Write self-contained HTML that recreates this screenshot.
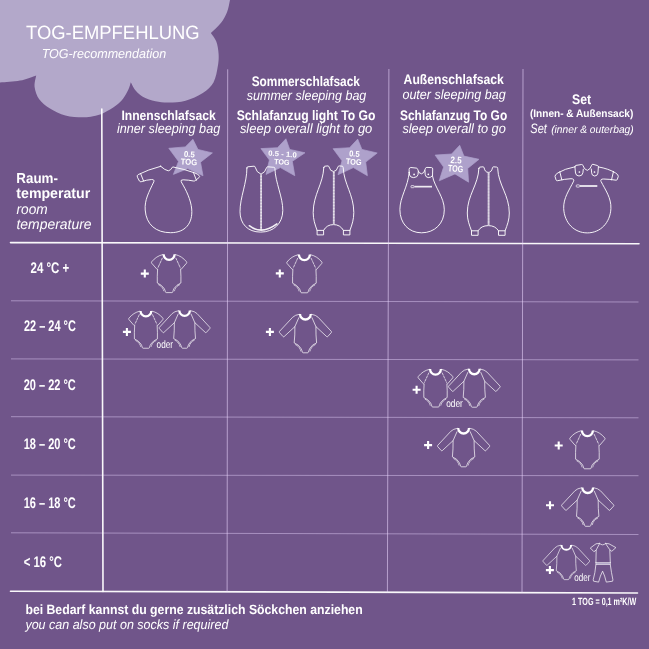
<!DOCTYPE html>
<html lang="de">
<head>
<meta charset="utf-8">
<title>TOG-Empfehlung</title>
<style>
html,body{margin:0;padding:0;background:#70558a;}
body{width:649px;height:649px;overflow:hidden;font-family:"Liberation Sans",sans-serif;}
svg{display:block;will-change:transform;}
</style>
</head>
<body>
<svg width="649" height="649" viewBox="0 0 649 649" font-family="'Liberation Sans', sans-serif" text-rendering="geometricPrecision">
<rect x="0" y="0" width="649" height="649" fill="#70558a"/>
<path d="M-8 -8 L231.5 -8 C231.25 -6.67 230.75 -3.38 230.00 0.00 C229.25 3.38 228.52 8.45 227.00 12.30 C225.48 16.15 223.58 19.63 220.90 23.10 C218.22 26.57 212.57 31.43 210.90 33.10 C211.80 34.52 215.02 38.12 216.30 41.60 C217.58 45.08 218.35 49.88 218.60 54.00 C218.85 58.12 218.65 61.57 217.80 66.30 C216.95 71.03 216.00 77.95 213.50 82.40 C211.00 86.85 207.47 89.95 202.80 93.00 C198.13 96.05 191.13 99.10 185.50 100.70 C179.87 102.30 174.00 102.50 169.00 102.60 C164.00 102.70 159.80 102.23 155.50 101.30 C151.20 100.37 146.48 98.75 143.20 97.00 C139.92 95.25 137.87 93.27 135.80 90.80 C133.73 88.33 131.63 83.63 130.80 82.20 C130.40 83.43 129.63 86.93 128.40 89.60 C127.17 92.27 125.47 95.53 123.40 98.20 C121.33 100.87 119.28 103.13 116.00 105.60 C112.72 108.07 107.53 111.22 103.70 113.00 C99.87 114.78 96.55 115.58 93.00 116.30 C89.45 117.02 87.00 117.43 82.40 117.30 C77.80 117.17 70.80 116.97 65.40 115.50 C60.00 114.03 54.37 111.20 50.00 108.50 C45.63 105.80 41.77 102.88 39.20 99.30 C36.63 95.72 35.10 90.98 34.60 87.00 C34.10 83.02 35.93 77.33 36.20 75.40 C33.50 76.27 26.03 79.40 20.00 80.60 C13.97 81.80 4.67 82.23 0.00 82.60 C-4.67 82.97 -6.67 82.77 -8.00 82.80 Z" fill="#b3a8ca"/>
<line x1="10.5" y1="242.6" x2="639.0" y2="243.8" stroke="#fff" stroke-opacity="0.96" stroke-width="1.6" stroke-linecap="round"/>
<line x1="11" y1="300.8" x2="638.5" y2="302.0" stroke="#ead6ff" stroke-opacity="0.46" stroke-width="1"/>
<line x1="11" y1="358.9" x2="638.5" y2="359.9" stroke="#ead6ff" stroke-opacity="0.46" stroke-width="1"/>
<line x1="11" y1="416.7" x2="638.5" y2="417.8" stroke="#ead6ff" stroke-opacity="0.46" stroke-width="1"/>
<line x1="11" y1="475.1" x2="638.5" y2="475.7" stroke="#ead6ff" stroke-opacity="0.46" stroke-width="1"/>
<line x1="11" y1="532.8" x2="638.5" y2="534.5" stroke="#ead6ff" stroke-opacity="0.46" stroke-width="1"/>
<line x1="10.5" y1="591.2" x2="637.5" y2="593.0" stroke="#fff" stroke-opacity="0.96" stroke-width="1.6" stroke-linecap="round"/>
<line x1="101.8" y1="109.0" x2="103.0" y2="591.4" stroke="#fff" stroke-opacity="0.96" stroke-width="1.6" stroke-linecap="round"/>
<line x1="227.7" y1="69.3" x2="227.1" y2="591.9" stroke="#ecd8ff" stroke-opacity="0.58" stroke-width="1"/>
<line x1="388.9" y1="69.0" x2="387.4" y2="592.4" stroke="#ecd8ff" stroke-opacity="0.58" stroke-width="1"/>
<line x1="523.0" y1="69.0" x2="522.0" y2="592.8" stroke="#ecd8ff" stroke-opacity="0.58" stroke-width="1"/>
<text x="26.0" y="39.3" font-size="19.20" font-weight="normal" font-style="normal" fill="#ffffff" textLength="173.6" lengthAdjust="spacingAndGlyphs">TOG-EMPFEHLUNG</text>
<text x="41.7" y="58.4" font-size="13.00" font-weight="normal" font-style="italic" fill="#ffffff" textLength="124.5" lengthAdjust="spacingAndGlyphs">TOG-recommendation</text>
<text x="121.4" y="120.4" font-size="13.60" font-weight="bold" font-style="normal" fill="#ffffff" textLength="94.4" lengthAdjust="spacingAndGlyphs">Innenschlafsack</text>
<text x="117.0" y="133.0" font-size="13.60" font-weight="normal" font-style="italic" fill="#ffffff" textLength="103.2" lengthAdjust="spacingAndGlyphs">inner sleeping bag</text>
<text x="251.7" y="86.0" font-size="13.80" font-weight="bold" font-style="normal" fill="#ffffff" textLength="108.2" lengthAdjust="spacingAndGlyphs">Sommerschlafsack</text>
<text x="246.8" y="99.5" font-size="13.60" font-weight="normal" font-style="italic" fill="#ffffff" textLength="119.5" lengthAdjust="spacingAndGlyphs">summer sleeping bag</text>
<text x="236.7" y="120.0" font-size="13.80" font-weight="bold" font-style="normal" fill="#ffffff" textLength="138.8" lengthAdjust="spacingAndGlyphs">Schlafanzug light To Go</text>
<text x="239.9" y="132.8" font-size="13.60" font-weight="normal" font-style="italic" fill="#ffffff" textLength="132.4" lengthAdjust="spacingAndGlyphs">sleep overall light to go</text>
<text x="403.6" y="83.6" font-size="13.80" font-weight="bold" font-style="normal" fill="#ffffff" textLength="100.2" lengthAdjust="spacingAndGlyphs">Außenschlafsack</text>
<text x="402.4" y="99.3" font-size="13.60" font-weight="normal" font-style="italic" fill="#ffffff" textLength="103.4" lengthAdjust="spacingAndGlyphs">outer sleeping bag</text>
<text x="400.0" y="119.7" font-size="13.80" font-weight="bold" font-style="normal" fill="#ffffff" textLength="107.2" lengthAdjust="spacingAndGlyphs">Schlafanzug To Go</text>
<text x="402.4" y="133.0" font-size="13.60" font-weight="normal" font-style="italic" fill="#ffffff" textLength="103.4" lengthAdjust="spacingAndGlyphs">sleep overall to go</text>
<text x="572.1" y="103.5" font-size="13.80" font-weight="bold" font-style="normal" fill="#ffffff" textLength="19.1" lengthAdjust="spacingAndGlyphs">Set</text>
<text x="529.9" y="117.4" font-size="10.80" font-weight="bold" font-style="normal" fill="#ffffff" textLength="103.4" lengthAdjust="spacingAndGlyphs">(Innen- &amp; Außensack)</text>
<text x="530.3" y="132.7" font-size="13.60" font-weight="normal" font-style="italic" fill="#ffffff" textLength="16.5" lengthAdjust="spacingAndGlyphs">Set</text>
<text x="551.2" y="132.7" font-size="10.80" font-weight="normal" font-style="italic" fill="#ffffff" textLength="82.5" lengthAdjust="spacingAndGlyphs">(inner &amp; outerbag)</text>
<text x="16.3" y="183.1" font-size="14.40" font-weight="bold" font-style="normal" fill="#ffffff" textLength="41.6" lengthAdjust="spacingAndGlyphs">Raum-</text>
<text x="16.3" y="198.3" font-size="14.40" font-weight="bold" font-style="normal" fill="#ffffff" textLength="73.9" lengthAdjust="spacingAndGlyphs">temperatur</text>
<text x="16.5" y="213.6" font-size="14.40" font-weight="normal" font-style="italic" fill="#ffffff" textLength="31.2" lengthAdjust="spacingAndGlyphs">room</text>
<text x="16.5" y="228.8" font-size="14.40" font-weight="normal" font-style="italic" fill="#ffffff" textLength="75.0" lengthAdjust="spacingAndGlyphs">temperature</text>
<text x="30.5" y="272.5" font-size="15.40" font-weight="bold" font-style="normal" fill="#ffffff" textLength="38.8" lengthAdjust="spacingAndGlyphs">24 °C +</text>
<text x="24.0" y="331.4" font-size="15.40" font-weight="bold" font-style="normal" fill="#ffffff" textLength="51.8" lengthAdjust="spacingAndGlyphs">22 – 24 °C</text>
<text x="23.7" y="390.3" font-size="15.40" font-weight="bold" font-style="normal" fill="#ffffff" textLength="52.1" lengthAdjust="spacingAndGlyphs">20 – 22 °C</text>
<text x="23.7" y="449.2" font-size="15.40" font-weight="bold" font-style="normal" fill="#ffffff" textLength="52.1" lengthAdjust="spacingAndGlyphs">18 – 20 °C</text>
<text x="23.7" y="507.6" font-size="15.40" font-weight="bold" font-style="normal" fill="#ffffff" textLength="52.1" lengthAdjust="spacingAndGlyphs">16 – 18 °C</text>
<text x="23.7" y="566.6" font-size="15.40" font-weight="bold" font-style="normal" fill="#ffffff" textLength="38.3" lengthAdjust="spacingAndGlyphs">&lt; 16 °C</text>
<text x="25.4" y="614.3" font-size="13.40" font-weight="bold" font-style="normal" fill="#ffffff" textLength="337.3" lengthAdjust="spacingAndGlyphs">bei Bedarf kannst du gerne zusätzlich Söckchen anziehen</text>
<text x="25.4" y="629.2" font-size="13.40" font-weight="normal" font-style="italic" fill="#ffffff" textLength="203.0" lengthAdjust="spacingAndGlyphs">you can also put on socks if required</text>
<text x="572.1" y="604.6" font-size="10.40" font-weight="bold" font-style="normal" fill="#ffffff" textLength="64.2" lengthAdjust="spacingAndGlyphs">1 TOG = 0,1 m²K/W</text>
<path d="M192.9 139.3 L198.0 149.5 L212.4 152.9 L200.5 162.2 L203.0 175.8 L187.8 168.6 L173.4 174.4 L178.5 161.4 L168.8 148.3 L185.3 146.9Z" fill="#aea1cb" stroke="#aea1cb" stroke-width="0.7" stroke-linejoin="round"/>
<g transform="rotate(4.0 189.1 157.9)" font-weight="bold" font-size="8.4" fill="#fff">
<text x="183.6" y="157.1" textLength="11.0" lengthAdjust="spacingAndGlyphs">0.5</text>
<text x="181.0" y="164.8" textLength="16.6" lengthAdjust="spacingAndGlyphs">TOG</text>
</g>
<path d="M285.9 138.8 L289.7 149.4 L305.0 152.8 L292.3 161.3 L294.8 175.7 L280.4 167.6 L266.0 174.4 L269.4 160.0 L260.9 148.6 L277.5 147.7Z" fill="#aea1cb" stroke="#aea1cb" stroke-width="0.7" stroke-linejoin="round"/>
<g transform="rotate(4.4 282.2 157.9)" font-weight="bold" font-size="7.5" fill="#fff">
<text x="267.9" y="156.5" textLength="28.6" lengthAdjust="spacingAndGlyphs">0.5 - 1.0</text>
<text x="274.5" y="164.6" textLength="15.4" lengthAdjust="spacingAndGlyphs">TOG</text>
</g>
<path d="M357.7 139.1 L361.9 149.4 L377.2 153.0 L365.7 162.1 L367.4 175.7 L353.4 167.6 L338.0 174.7 L342.0 160.8 L333.1 148.7 L349.6 147.7Z" fill="#aea1cb" stroke="#aea1cb" stroke-width="0.7" stroke-linejoin="round"/>
<g transform="rotate(4.0 354.1 157.7)" font-weight="bold" font-size="8.3" fill="#fff">
<text x="348.8" y="156.6" textLength="10.6" lengthAdjust="spacingAndGlyphs">0.5</text>
<text x="346.2" y="164.7" textLength="15.7" lengthAdjust="spacingAndGlyphs">TOG</text>
</g>
<path d="M459.7 145.3 L463.9 156.1 L479.0 159.3 L467.7 168.4 L468.6 182.2 L455.0 173.9 L439.2 180.8 L443.6 167.1 L435.1 155.1 L451.6 154.0Z" fill="#aea1cb" stroke="#aea1cb" stroke-width="0.7" stroke-linejoin="round"/>
<g transform="rotate(4.0 455.9 164.2)" font-weight="bold" font-size="9.4" fill="#fff">
<text x="450.3" y="163.3" textLength="11.1" lengthAdjust="spacingAndGlyphs">2.5</text>
<text x="448.2" y="171.8" textLength="15.3" lengthAdjust="spacingAndGlyphs">TOG</text>
</g>
<path d="M160.7 166.3 Q148 169.6 138.2 174.6 Q136.6 175.6 137.4 177.2 L139.4 181.0 Q140.0 182.0 141.2 181.7 Q147 179.8 151.6 179.5 Q154.8 179.6 153.8 181.8 C149 192 144.4 200 145.2 210 C146.2 224.6 156.0 232.7 170.6 232.7 C185.2 232.7 192.9 223.4 191.7 209 C190.8 199.6 186.4 190.6 181.2 181.8 Q180.2 179.8 183.2 179.8 Q188.6 180 193.6 181.0 Q194.8 181.2 195.6 180.4 L199.2 177.4 Q200.2 176.4 199.0 175.4 Q197.4 174.0 195.0 173.0 Q184 169.0 172.7 166.9 Q170.4 170.8 168.3 170.8 Q165.2 170.4 160.7 166.3Z" fill="none" stroke="#fff" stroke-width="1.0" stroke-opacity="0.92" stroke-linejoin="round" stroke-linecap="round"/>
<path d="M140.6 173.6 L143.6 181.0M196.4 180.2 L193.4 172.4" fill="none" stroke="#fff" stroke-width="1.0" stroke-opacity="0.92" stroke-linejoin="round" stroke-linecap="round"/>
<path d="M246.9 168 Q246.8 166.9 247.9 166.8 L254 166.2 Q255 166.2 255.2 167.2 Q256.4 172.4 261 174.2 Q265.4 172.4 266.6 167.6 Q266.8 166.7 267.8 166.8 L273.8 167.3 Q274.8 167.4 274.9 168.4 C275.4 183 282.9 197 282.8 210.5 C282.7 223.6 273.6 232.1 260.6 232.1 C247.6 232.1 240 223.6 240 211.7 C240 197 247 183 246.9 168Z" fill="none" stroke="#fff" stroke-width="1.0" stroke-opacity="0.92" stroke-linejoin="round" stroke-linecap="round"/>
<path d="M261.1 174.6V229.8" fill="none" stroke="#fff" stroke-width="1.8" stroke-opacity="0.55"/><path d="M261.1 174.6V229.8" fill="none" stroke="#fff" stroke-width="1.8" stroke-opacity="0.6" stroke-dasharray="1 0.5"/>
<path d="M249.3 225.7 Q261.5 235.4 276.9 223.9" fill="none" stroke="#fff" stroke-opacity="0.92" stroke-width="1.5" stroke-linecap="round"/>
<path d="M323.8 167.5 Q323.8 166.3 324.8 166.2 L328.0 165.9 Q328.8 166.0 329.0 166.9 Q330.3 171.5 333.5 171.5 Q336.7 171.5 338.0 166.9 Q338.2 166.0 339.0 165.9 L342.2 166.2 Q343.2 166.3 343.2 167.5 C343.8 184.1 353.8 194.5 353.8 212.5 C353.8 219.5 352.1 224.4 349.9 230.4 L349.9 234.9 L343.4 234.9 L343.4 230.4 Q340.2 224.6 333.5 224.6 Q326.8 224.6 323.6 230.4 L323.6 234.9 L317.1 234.9 L317.1 230.4 C314.9 224.4 313.2 219.5 313.2 212.5 C313.2 194.5 323.2 184.1 323.8 167.5Z" fill="none" stroke="#fff" stroke-width="1.0" stroke-opacity="0.92" stroke-linejoin="round" stroke-linecap="round"/><path d="M317.1 230.4H323.6M343.4 230.4H349.9" fill="none" stroke="#fff" stroke-width="1.0" stroke-opacity="0.92" stroke-linejoin="round" stroke-linecap="round"/><path d="M333.8 171.9V223.8" fill="none" stroke="#fff" stroke-width="1.8" stroke-opacity="0.55"/><path d="M333.8 171.9V223.8" fill="none" stroke="#fff" stroke-width="1.8" stroke-opacity="0.6" stroke-dasharray="1 0.5"/>
<path d="M478.9 168.4 Q478.9 167.2 479.9 167.1 L483.1 166.8 Q483.9 166.9 484.1 167.8 Q485.1 172.4 488.3 172.4 Q491.5 172.4 492.5 167.8 Q492.7 166.9 493.5 166.8 L496.7 167.1 Q497.7 167.2 497.7 168.4 C498.3 185.0 509.3 195.0 509.3 213.0 C509.3 220.0 507.3 224.8 505.1 230.8 L505.1 235.3 L498.5 235.3 L498.5 230.8 Q495.3 225.6 488.3 225.6 Q481.3 225.6 478.1 230.8 L478.1 235.3 L471.5 235.3 L471.5 230.8 C469.3 224.8 467.3 220.0 467.3 213.0 C467.3 195.0 478.3 185.0 478.9 168.4Z" fill="none" stroke="#fff" stroke-width="1.0" stroke-opacity="0.92" stroke-linejoin="round" stroke-linecap="round"/><path d="M471.5 230.8H478.1M498.5 230.8H505.1" fill="none" stroke="#fff" stroke-width="1.0" stroke-opacity="0.92" stroke-linejoin="round" stroke-linecap="round"/><path d="M488.6 172.8V224.8" fill="none" stroke="#fff" stroke-width="1.8" stroke-opacity="0.55"/><path d="M488.6 172.8V224.8" fill="none" stroke="#fff" stroke-width="1.8" stroke-opacity="0.6" stroke-dasharray="1 0.5"/>
<path d="M409.2 172.3 L409.1 169.4 Q409.1 167.6 410.8 167.5 L416.4 168.1 Q417.4 168.3 417.6 169.2 Q418.6 173.7 421.5 173.8 Q424.2 173.6 425.3 168.8 Q425.5 167.5 426.8 167.4 L431.6 167.6 Q432.8 167.8 432.7 169 L432.5 176 C434.4 187 444.3 197 444.3 209.8 C444.3 223.6 434.6 232.8 421.6 232.8 C408.6 232.8 399.9 223.2 399.9 209.6 C399.9 197 408 187 409.2 172.3Z" fill="none" stroke="#fff" stroke-width="1.0" stroke-opacity="0.92" stroke-linejoin="round" stroke-linecap="round"/>
<path d="M409.2 172.3 L409.6 175.0 Q410.2 177.6 413.6 177.6 Q417.6 177.4 418.0 174.6 L418.3 171.4M432.5 175.6 Q431.2 177.7 428.2 177.6 Q425.4 177.2 425.2 174.4 L425.0 170.6" fill="none" stroke="#fff" stroke-width="1.0" stroke-opacity="0.92" stroke-linejoin="round" stroke-linecap="round" stroke-width="0.9"/>
<circle cx="414.1" cy="174.4" r="0.85" fill="#fff"/><circle cx="428.3" cy="174.3" r="0.85" fill="#fff"/>
<rect x="411.0" y="185.6" width="3.0" height="2.1" rx="0.5" fill="none" stroke="#fff" stroke-width="0.7"/><rect x="414.4" y="185.8" width="17.6" height="1.7" fill="#fff" fill-opacity="0.88"/>
<path d="M574.9 166.8 Q564.6 168.8 558.0 172.8 Q554.8 174.8 555.0 176.4 L556.1 180.0 Q556.5 180.9 557.6 180.7 Q565 179.0 571.0 178.7 Q574.6 178.8 573.6 181.2 C569.4 190 563.2 198 563.7 208.6 C564.4 222.6 574 232.9 587.3 232.9 C600.6 232.9 610.2 222.6 610.9 208.6 C611.4 198 605.4 190 601.0 181.4 Q600.0 179.0 603.6 179.0 Q610 179.2 616.0 180.2 Q617.0 180.3 617.3 179.4 L618.3 176.4 Q618.6 174.8 615.4 172.8 Q608.8 168.8 598.4 166.9" fill="none" stroke="#fff" stroke-width="1.0" stroke-opacity="0.92" stroke-linejoin="round" stroke-linecap="round"/>
<path d="M574.9 166.8 Q574.8 165.7 576 165.4 L581.6 164.5 Q582.6 164.4 582.9 165.4 Q584.0 169.4 587.3 170.4 Q590.4 169.4 591.7 165.2 Q592 164.1 593 164.3 L597.6 165.6 Q598.5 165.9 598.4 166.9 L597.9 173.2 Q597.4 176.0 594.6 176.0 Q591.8 175.8 591.6 172.8 L591.3 169.0 M583.3 169.2 L582.9 172.8 Q582.4 176.0 579.0 176.0 Q575.9 175.8 575.5 173 L574.9 166.8" fill="none" stroke="#fff" stroke-width="1.0" stroke-opacity="0.92" stroke-linejoin="round" stroke-linecap="round" stroke-width="0.95"/>
<path d="M559.8 171.8 L561.8 179.8M613.5 171.4 L611.5 179.9" fill="none" stroke="#fff" stroke-width="1.0" stroke-opacity="0.92" stroke-linejoin="round" stroke-linecap="round"/>
<circle cx="579.4" cy="172.0" r="0.85" fill="#fff"/><circle cx="594.5" cy="172.0" r="0.85" fill="#fff"/>
<rect x="576.3" y="184.9" width="3.3" height="2.2" rx="0.5" fill="none" stroke="#fff" stroke-width="0.7"/><rect x="580.0" y="185.1" width="17.3" height="1.8" fill="#fff" fill-opacity="0.88"/>
<path d="M140.8 273.6H148.8M144.8 269.6V277.6" stroke="#fff" stroke-width="2.1" fill="none"/>
<g transform="translate(169.1 254.4) scale(1.000)"><path d="M-6.4 0.2 Q-12.8 1.6 -17.4 7.4 Q-17.9 8.1 -17.4 8.8 L-12.2 14.8 Q-11.8 15.2 -11.5 14.7 Q-12.0 22 -11.8 28.6 Q-7.4 30.4 -5.0 34.0 Q-4.0 35.8 -3.7 37.4 Q-3.5 38.2 -2.8 38.2 L2.8 38.2 Q3.5 38.2 3.7 37.4 Q4.0 35.8 5.0 34.0 Q7.4 30.4 11.8 28.6 Q12.0 22 11.5 14.7 Q11.8 15.2 12.2 14.8 L17.4 8.8 Q17.9 8.1 17.4 7.4 Q12.8 1.6 6.4 0.2" fill="none" stroke="#fff" stroke-width="0.8" stroke-opacity="0.88" stroke-linejoin="round" stroke-linecap="round"/><path d="M-6.8 3.8L-11.2 13.4M6.8 3.8L11.2 13.4" fill="none" stroke="#fff" stroke-width="0.8" stroke-opacity="0.88" stroke-linejoin="round" stroke-linecap="round" stroke-dasharray="2.2 1.3" stroke-opacity="0.8"/><path d="M-10.4 30.4 Q-6.6 32.2 -5.4 36.4M10.4 30.4 Q6.6 32.2 5.4 36.4" fill="none" stroke="#fff" stroke-width="0.8" stroke-opacity="0.88" stroke-linejoin="round" stroke-linecap="round" stroke-dasharray="1.4 1" stroke-opacity="0.75"/><path d="M-5.5 -0.1 A5.5 5.6 0 0 0 5.5 -0.1" fill="none" stroke="#fff" stroke-width="2.3"/></g>
<path d="M275.8 273.4H283.8M279.8 269.4V277.4" stroke="#fff" stroke-width="2.1" fill="none"/>
<g transform="translate(304.4 254.6) scale(1.000)"><path d="M-6.4 0.2 Q-12.8 1.6 -17.4 7.4 Q-17.9 8.1 -17.4 8.8 L-12.2 14.8 Q-11.8 15.2 -11.5 14.7 Q-12.0 22 -11.8 28.6 Q-7.4 30.4 -5.0 34.0 Q-4.0 35.8 -3.7 37.4 Q-3.5 38.2 -2.8 38.2 L2.8 38.2 Q3.5 38.2 3.7 37.4 Q4.0 35.8 5.0 34.0 Q7.4 30.4 11.8 28.6 Q12.0 22 11.5 14.7 Q11.8 15.2 12.2 14.8 L17.4 8.8 Q17.9 8.1 17.4 7.4 Q12.8 1.6 6.4 0.2" fill="none" stroke="#fff" stroke-width="0.8" stroke-opacity="0.88" stroke-linejoin="round" stroke-linecap="round"/><path d="M-6.8 3.8L-11.2 13.4M6.8 3.8L11.2 13.4" fill="none" stroke="#fff" stroke-width="0.8" stroke-opacity="0.88" stroke-linejoin="round" stroke-linecap="round" stroke-dasharray="2.2 1.3" stroke-opacity="0.8"/><path d="M-10.4 30.4 Q-6.6 32.2 -5.4 36.4M10.4 30.4 Q6.6 32.2 5.4 36.4" fill="none" stroke="#fff" stroke-width="0.8" stroke-opacity="0.88" stroke-linejoin="round" stroke-linecap="round" stroke-dasharray="1.4 1" stroke-opacity="0.75"/><path d="M-5.5 -0.1 A5.5 5.6 0 0 0 5.5 -0.1" fill="none" stroke="#fff" stroke-width="2.3"/></g>
<path d="M122.9 331.9H130.9M126.9 327.9V335.9" stroke="#fff" stroke-width="2.1" fill="none"/>
<g transform="translate(145.9 311.0) scale(0.975)"><path d="M-6.4 0.2 Q-12.8 1.6 -17.4 7.4 Q-17.9 8.1 -17.4 8.8 L-12.2 14.8 Q-11.8 15.2 -11.5 14.7 Q-12.0 22 -11.8 28.6 Q-7.4 30.4 -5.0 34.0 Q-4.0 35.8 -3.7 37.4 Q-3.5 38.2 -2.8 38.2 L2.8 38.2 Q3.5 38.2 3.7 37.4 Q4.0 35.8 5.0 34.0 Q7.4 30.4 11.8 28.6 Q12.0 22 11.5 14.7 Q11.8 15.2 12.2 14.8 L17.4 8.8 Q17.9 8.1 17.4 7.4 Q12.8 1.6 6.4 0.2" fill="none" stroke="#fff" stroke-width="0.8" stroke-opacity="0.88" stroke-linejoin="round" stroke-linecap="round"/><path d="M-6.8 3.8L-11.2 13.4M6.8 3.8L11.2 13.4" fill="none" stroke="#fff" stroke-width="0.8" stroke-opacity="0.88" stroke-linejoin="round" stroke-linecap="round" stroke-dasharray="2.2 1.3" stroke-opacity="0.8"/><path d="M-10.4 30.4 Q-6.6 32.2 -5.4 36.4M10.4 30.4 Q6.6 32.2 5.4 36.4" fill="none" stroke="#fff" stroke-width="0.8" stroke-opacity="0.88" stroke-linejoin="round" stroke-linecap="round" stroke-dasharray="1.4 1" stroke-opacity="0.75"/><path d="M-5.5 -0.1 A5.5 5.6 0 0 0 5.5 -0.1" fill="none" stroke="#fff" stroke-width="2.3"/></g>
<text x="156.6" y="348.2" font-size="10.80" font-weight="normal" font-style="normal" fill="#ffffff" textLength="16.4" lengthAdjust="spacingAndGlyphs">oder</text>
<g transform="translate(184.6 310.5) scale(0.975)"><path d="M-6.2 0.2 Q-10.4 0.8 -12.8 3.2 L-25.9 17.3 Q-26.4 17.9 -25.9 18.5 L-22.3 22.5 Q-21.8 23.0 -21.3 22.5 L-10.5 12.5 Q-10.4 21 -11.2 28.8 Q-6.4 30.6 -4.4 34.4 Q-3.4 36.4 -3.0 38.0 Q-2.8 38.7 -2.1 38.7 L2.1 38.7 Q2.8 38.7 3.0 38.0 Q3.4 36.4 4.4 34.4 Q6.4 30.6 11.2 28.8 Q10.4 21 10.5 12.5 L21.3 22.5 Q21.8 23.0 22.3 22.5 L25.9 18.5 Q26.4 17.9 25.9 17.3 L12.8 3.2 Q10.4 0.8 6.2 0.2" fill="none" stroke="#fff" stroke-width="0.8" stroke-opacity="0.88" stroke-linejoin="round" stroke-linecap="round"/><path d="M-6.6 3.6L-10.4 12.3M6.6 3.6L10.4 12.3" fill="none" stroke="#fff" stroke-width="0.8" stroke-opacity="0.88" stroke-linejoin="round" stroke-linecap="round" stroke-opacity="0.75" stroke-width="0.7"/><path d="M-9.8 30.6 Q-6 32.4 -4.6 37M9.8 30.6 Q6 32.4 4.6 37" fill="none" stroke="#fff" stroke-width="0.8" stroke-opacity="0.88" stroke-linejoin="round" stroke-linecap="round" stroke-dasharray="1.4 1" stroke-opacity="0.75"/><path d="M-5.4 -0.1 A5.4 5.5 0 0 0 5.4 -0.1" fill="none" stroke="#fff" stroke-width="2.3"/></g>
<path d="M265.9 331.9H273.9M269.9 327.9V335.9" stroke="#fff" stroke-width="2.1" fill="none"/>
<g transform="translate(305.4 314.1) scale(1.000)"><path d="M-6.2 0.2 Q-10.4 0.8 -12.8 3.2 L-25.9 17.3 Q-26.4 17.9 -25.9 18.5 L-22.3 22.5 Q-21.8 23.0 -21.3 22.5 L-10.5 12.5 Q-10.4 21 -11.2 28.8 Q-6.4 30.6 -4.4 34.4 Q-3.4 36.4 -3.0 38.0 Q-2.8 38.7 -2.1 38.7 L2.1 38.7 Q2.8 38.7 3.0 38.0 Q3.4 36.4 4.4 34.4 Q6.4 30.6 11.2 28.8 Q10.4 21 10.5 12.5 L21.3 22.5 Q21.8 23.0 22.3 22.5 L25.9 18.5 Q26.4 17.9 25.9 17.3 L12.8 3.2 Q10.4 0.8 6.2 0.2" fill="none" stroke="#fff" stroke-width="0.8" stroke-opacity="0.88" stroke-linejoin="round" stroke-linecap="round"/><path d="M-6.6 3.6L-10.4 12.3M6.6 3.6L10.4 12.3" fill="none" stroke="#fff" stroke-width="0.8" stroke-opacity="0.88" stroke-linejoin="round" stroke-linecap="round" stroke-opacity="0.75" stroke-width="0.7"/><path d="M-9.8 30.6 Q-6 32.4 -4.6 37M9.8 30.6 Q6 32.4 4.6 37" fill="none" stroke="#fff" stroke-width="0.8" stroke-opacity="0.88" stroke-linejoin="round" stroke-linecap="round" stroke-dasharray="1.4 1" stroke-opacity="0.75"/><path d="M-5.4 -0.1 A5.4 5.5 0 0 0 5.4 -0.1" fill="none" stroke="#fff" stroke-width="2.3"/></g>
<path d="M412.6 389.8H420.6M416.6 385.8V393.8" stroke="#fff" stroke-width="2.1" fill="none"/>
<g transform="translate(435.5 369.2) scale(0.990)"><path d="M-6.4 0.2 Q-12.8 1.6 -17.4 7.4 Q-17.9 8.1 -17.4 8.8 L-12.2 14.8 Q-11.8 15.2 -11.5 14.7 Q-12.0 22 -11.8 28.6 Q-7.4 30.4 -5.0 34.0 Q-4.0 35.8 -3.7 37.4 Q-3.5 38.2 -2.8 38.2 L2.8 38.2 Q3.5 38.2 3.7 37.4 Q4.0 35.8 5.0 34.0 Q7.4 30.4 11.8 28.6 Q12.0 22 11.5 14.7 Q11.8 15.2 12.2 14.8 L17.4 8.8 Q17.9 8.1 17.4 7.4 Q12.8 1.6 6.4 0.2" fill="none" stroke="#fff" stroke-width="0.8" stroke-opacity="0.88" stroke-linejoin="round" stroke-linecap="round"/><path d="M-6.8 3.8L-11.2 13.4M6.8 3.8L11.2 13.4" fill="none" stroke="#fff" stroke-width="0.8" stroke-opacity="0.88" stroke-linejoin="round" stroke-linecap="round" stroke-dasharray="2.2 1.3" stroke-opacity="0.8"/><path d="M-10.4 30.4 Q-6.6 32.2 -5.4 36.4M10.4 30.4 Q6.6 32.2 5.4 36.4" fill="none" stroke="#fff" stroke-width="0.8" stroke-opacity="0.88" stroke-linejoin="round" stroke-linecap="round" stroke-dasharray="1.4 1" stroke-opacity="0.75"/><path d="M-5.5 -0.1 A5.5 5.6 0 0 0 5.5 -0.1" fill="none" stroke="#fff" stroke-width="2.3"/></g>
<text x="446.2" y="406.6" font-size="10.80" font-weight="normal" font-style="normal" fill="#ffffff" textLength="16.7" lengthAdjust="spacingAndGlyphs">oder</text>
<g transform="translate(474.3 368.9) scale(0.990)"><path d="M-6.2 0.2 Q-10.4 0.8 -12.8 3.2 L-25.9 17.3 Q-26.4 17.9 -25.9 18.5 L-22.3 22.5 Q-21.8 23.0 -21.3 22.5 L-10.5 12.5 Q-10.4 21 -11.2 28.8 Q-6.4 30.6 -4.4 34.4 Q-3.4 36.4 -3.0 38.0 Q-2.8 38.7 -2.1 38.7 L2.1 38.7 Q2.8 38.7 3.0 38.0 Q3.4 36.4 4.4 34.4 Q6.4 30.6 11.2 28.8 Q10.4 21 10.5 12.5 L21.3 22.5 Q21.8 23.0 22.3 22.5 L25.9 18.5 Q26.4 17.9 25.9 17.3 L12.8 3.2 Q10.4 0.8 6.2 0.2" fill="none" stroke="#fff" stroke-width="0.8" stroke-opacity="0.88" stroke-linejoin="round" stroke-linecap="round"/><path d="M-6.6 3.6L-10.4 12.3M6.6 3.6L10.4 12.3" fill="none" stroke="#fff" stroke-width="0.8" stroke-opacity="0.88" stroke-linejoin="round" stroke-linecap="round" stroke-opacity="0.75" stroke-width="0.7"/><path d="M-9.8 30.6 Q-6 32.4 -4.6 37M9.8 30.6 Q6 32.4 4.6 37" fill="none" stroke="#fff" stroke-width="0.8" stroke-opacity="0.88" stroke-linejoin="round" stroke-linecap="round" stroke-dasharray="1.4 1" stroke-opacity="0.75"/><path d="M-5.4 -0.1 A5.4 5.5 0 0 0 5.4 -0.1" fill="none" stroke="#fff" stroke-width="2.3"/></g>
<path d="M424.1 445.1H432.1M428.1 441.1V449.1" stroke="#fff" stroke-width="2.1" fill="none"/>
<g transform="translate(463.6 428.1) scale(1.000)"><path d="M-6.2 0.2 Q-10.4 0.8 -12.8 3.2 L-25.9 17.3 Q-26.4 17.9 -25.9 18.5 L-22.3 22.5 Q-21.8 23.0 -21.3 22.5 L-10.5 12.5 Q-10.4 21 -11.2 28.8 Q-6.4 30.6 -4.4 34.4 Q-3.4 36.4 -3.0 38.0 Q-2.8 38.7 -2.1 38.7 L2.1 38.7 Q2.8 38.7 3.0 38.0 Q3.4 36.4 4.4 34.4 Q6.4 30.6 11.2 28.8 Q10.4 21 10.5 12.5 L21.3 22.5 Q21.8 23.0 22.3 22.5 L25.9 18.5 Q26.4 17.9 25.9 17.3 L12.8 3.2 Q10.4 0.8 6.2 0.2" fill="none" stroke="#fff" stroke-width="0.8" stroke-opacity="0.88" stroke-linejoin="round" stroke-linecap="round"/><path d="M-6.6 3.6L-10.4 12.3M6.6 3.6L10.4 12.3" fill="none" stroke="#fff" stroke-width="0.8" stroke-opacity="0.88" stroke-linejoin="round" stroke-linecap="round" stroke-opacity="0.75" stroke-width="0.7"/><path d="M-9.8 30.6 Q-6 32.4 -4.6 37M9.8 30.6 Q6 32.4 4.6 37" fill="none" stroke="#fff" stroke-width="0.8" stroke-opacity="0.88" stroke-linejoin="round" stroke-linecap="round" stroke-dasharray="1.4 1" stroke-opacity="0.75"/><path d="M-5.4 -0.1 A5.4 5.5 0 0 0 5.4 -0.1" fill="none" stroke="#fff" stroke-width="2.3"/></g>
<path d="M554.7 445.5H562.7M558.7 441.5V449.5" stroke="#fff" stroke-width="2.1" fill="none"/>
<g transform="translate(587.4 430.6) scale(1.000)"><path d="M-6.4 0.2 Q-12.8 1.6 -17.4 7.4 Q-17.9 8.1 -17.4 8.8 L-12.2 14.8 Q-11.8 15.2 -11.5 14.7 Q-12.0 22 -11.8 28.6 Q-7.4 30.4 -5.0 34.0 Q-4.0 35.8 -3.7 37.4 Q-3.5 38.2 -2.8 38.2 L2.8 38.2 Q3.5 38.2 3.7 37.4 Q4.0 35.8 5.0 34.0 Q7.4 30.4 11.8 28.6 Q12.0 22 11.5 14.7 Q11.8 15.2 12.2 14.8 L17.4 8.8 Q17.9 8.1 17.4 7.4 Q12.8 1.6 6.4 0.2" fill="none" stroke="#fff" stroke-width="0.8" stroke-opacity="0.88" stroke-linejoin="round" stroke-linecap="round"/><path d="M-6.8 3.8L-11.2 13.4M6.8 3.8L11.2 13.4" fill="none" stroke="#fff" stroke-width="0.8" stroke-opacity="0.88" stroke-linejoin="round" stroke-linecap="round" stroke-dasharray="2.2 1.3" stroke-opacity="0.8"/><path d="M-10.4 30.4 Q-6.6 32.2 -5.4 36.4M10.4 30.4 Q6.6 32.2 5.4 36.4" fill="none" stroke="#fff" stroke-width="0.8" stroke-opacity="0.88" stroke-linejoin="round" stroke-linecap="round" stroke-dasharray="1.4 1" stroke-opacity="0.75"/><path d="M-5.5 -0.1 A5.5 5.6 0 0 0 5.5 -0.1" fill="none" stroke="#fff" stroke-width="2.3"/></g>
<path d="M546.0 505.2H554.0M550.0 501.2V509.2" stroke="#fff" stroke-width="2.1" fill="none"/>
<g transform="translate(587.7 487.6) scale(1.000)"><path d="M-6.2 0.2 Q-10.4 0.8 -12.8 3.2 L-25.9 17.3 Q-26.4 17.9 -25.9 18.5 L-22.3 22.5 Q-21.8 23.0 -21.3 22.5 L-10.5 12.5 Q-10.4 21 -11.2 28.8 Q-6.4 30.6 -4.4 34.4 Q-3.4 36.4 -3.0 38.0 Q-2.8 38.7 -2.1 38.7 L2.1 38.7 Q2.8 38.7 3.0 38.0 Q3.4 36.4 4.4 34.4 Q6.4 30.6 11.2 28.8 Q10.4 21 10.5 12.5 L21.3 22.5 Q21.8 23.0 22.3 22.5 L25.9 18.5 Q26.4 17.9 25.9 17.3 L12.8 3.2 Q10.4 0.8 6.2 0.2" fill="none" stroke="#fff" stroke-width="0.8" stroke-opacity="0.88" stroke-linejoin="round" stroke-linecap="round"/><path d="M-6.6 3.6L-10.4 12.3M6.6 3.6L10.4 12.3" fill="none" stroke="#fff" stroke-width="0.8" stroke-opacity="0.88" stroke-linejoin="round" stroke-linecap="round" stroke-opacity="0.75" stroke-width="0.7"/><path d="M-9.8 30.6 Q-6 32.4 -4.6 37M9.8 30.6 Q6 32.4 4.6 37" fill="none" stroke="#fff" stroke-width="0.8" stroke-opacity="0.88" stroke-linejoin="round" stroke-linecap="round" stroke-dasharray="1.4 1" stroke-opacity="0.75"/><path d="M-5.4 -0.1 A5.4 5.5 0 0 0 5.4 -0.1" fill="none" stroke="#fff" stroke-width="2.3"/></g>
<g transform="translate(566.3 545.0) scale(0.895)"><path d="M-6.2 0.2 Q-10.4 0.8 -12.8 3.2 L-25.9 17.3 Q-26.4 17.9 -25.9 18.5 L-22.3 22.5 Q-21.8 23.0 -21.3 22.5 L-10.5 12.5 Q-10.4 21 -11.2 28.8 Q-6.4 30.6 -4.4 34.4 Q-3.4 36.4 -3.0 38.0 Q-2.8 38.7 -2.1 38.7 L2.1 38.7 Q2.8 38.7 3.0 38.0 Q3.4 36.4 4.4 34.4 Q6.4 30.6 11.2 28.8 Q10.4 21 10.5 12.5 L21.3 22.5 Q21.8 23.0 22.3 22.5 L25.9 18.5 Q26.4 17.9 25.9 17.3 L12.8 3.2 Q10.4 0.8 6.2 0.2" fill="none" stroke="#fff" stroke-width="0.8" stroke-opacity="0.88" stroke-linejoin="round" stroke-linecap="round"/><path d="M-6.6 3.6L-10.4 12.3M6.6 3.6L10.4 12.3" fill="none" stroke="#fff" stroke-width="0.8" stroke-opacity="0.88" stroke-linejoin="round" stroke-linecap="round" stroke-opacity="0.75" stroke-width="0.7"/><path d="M-9.8 30.6 Q-6 32.4 -4.6 37M9.8 30.6 Q6 32.4 4.6 37" fill="none" stroke="#fff" stroke-width="0.8" stroke-opacity="0.88" stroke-linejoin="round" stroke-linecap="round" stroke-dasharray="1.4 1" stroke-opacity="0.75"/><path d="M-5.4 -0.1 A5.4 5.5 0 0 0 5.4 -0.1" fill="none" stroke="#fff" stroke-width="2.3"/></g>
<path d="M545.9 570.1H553.9M549.9 566.1V574.1" stroke="#fff" stroke-width="2.1" fill="none"/>
<text x="574.3" y="580.8" font-size="10.80" font-weight="normal" font-style="normal" fill="#ffffff" textLength="16.1" lengthAdjust="spacingAndGlyphs">oder</text>
<g transform="translate(0.0 0.0)"><path d="M599.6 543.4 L596 543.8 L590.3 548 L593.9 551.7 L596.2 550 L595.9 562.6 M605.6 543.4 L609 543.8 L615.9 547.6 L611.8 551.3 L609.8 549.8 L610.3 562.6 M599.6 543.4 Q602.6 546.6 605.6 543.4" fill="none" stroke="#fff" stroke-width="0.8" stroke-opacity="0.88" stroke-linejoin="round" stroke-linecap="round"/><path d="M599.4 544 L596.4 549.6M605.8 544 L609.6 549.4" fill="none" stroke="#fff" stroke-width="0.8" stroke-opacity="0.88" stroke-linejoin="round" stroke-linecap="round" stroke-width="0.7" stroke-opacity="0.8"/><rect x="595.9" y="562.6" width="14.4" height="2" fill="#b3a8ca" stroke="#fff" stroke-width="0.5"/><path d="M595.9 564.6 Q595.2 573 593.2 579.8 L593.6 581.2 L598.6 582.1 Q600.2 575.5 602.6 571.2 Q604.8 575.5 606.3 582.1 L612.6 581.2 L612.9 579.8 Q611.4 573 610.3 564.6" fill="none" stroke="#fff" stroke-width="0.8" stroke-opacity="0.88" stroke-linejoin="round" stroke-linecap="round"/></g>
</svg>
</body>
</html>
